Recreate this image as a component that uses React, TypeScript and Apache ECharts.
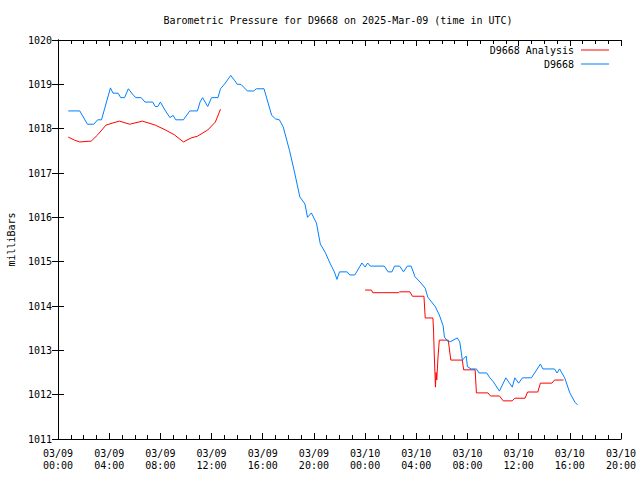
import React, { useEffect, useRef } from "react";
import * as echarts from "echarts";

const titleText = "Barometric Pressure for D9668 on 2025-Mar-09 (time in UTC)";
const yAxisName = "milliBars";
const xTickLabels = [
  "03/09\n00:00", "03/09\n04:00", "03/09\n08:00", "03/09\n12:00", "03/09\n16:00", "03/09\n20:00",
  "03/10\n00:00", "03/10\n04:00", "03/10\n08:00", "03/10\n12:00", "03/10\n16:00", "03/10\n20:00",
];
const seriesNames = ["D9668 Analysis", "D9668"];

// hours since 03/09 00:00 UTC
const obsHours = [
  0.8, 1.7, 2.3, 2.8, 3.1, 3.4, 4.1, 4.3, 4.7, 4.9, 5.2, 5.5, 5.9, 6.1, 6.5, 6.8, 7.4, 7.6, 7.8, 8.0,
  8.4, 8.75, 9.0, 9.2, 9.8, 10.3, 10.9, 11.1, 11.3, 11.7, 12.0, 12.5, 12.7, 13.0, 13.5, 13.9, 14.0, 14.3,
  14.8, 15.3, 15.5, 16.1, 16.4, 16.7, 17.0, 17.3, 17.6, 18.1, 18.5, 18.9, 19.3, 19.5, 19.8, 20.2, 20.5,
  20.9, 21.25, 21.6, 21.8, 22.0, 22.6, 22.8, 23.2, 23.75, 24.0, 24.2, 24.4, 25.5, 25.8, 26.1, 26.3, 26.7,
  27.0, 27.3, 27.6, 27.9, 28.3, 28.7, 28.9, 29.2, 29.5, 29.8, 30.1, 30.2, 30.5, 30.7, 31.2, 31.4, 31.6,
  31.9, 32.0, 32.3, 32.7, 32.9, 33.5, 33.75, 34.0, 34.5, 35.0, 35.5, 35.7, 36.0, 36.3, 37.0, 37.3, 37.7,
  37.9, 38.8, 39.0, 39.2, 39.6, 40.0, 40.4, 40.6,
];
const obsValues = [
  1018.4, 1018.4, 1018.1, 1018.1, 1018.2, 1018.2, 1018.92, 1018.8, 1018.8, 1018.7, 1018.7, 1018.9, 1018.75,
  1018.7, 1018.7, 1018.6, 1018.6, 1018.5, 1018.5, 1018.6, 1018.4, 1018.25, 1018.3, 1018.2, 1018.2, 1018.4,
  1018.4, 1018.6, 1018.7, 1018.5, 1018.7, 1018.7, 1018.9, 1019.0, 1019.2, 1019.05, 1019.0, 1019.0, 1018.85,
  1018.85, 1018.9, 1018.9, 1018.6, 1018.3, 1018.22, 1018.2, 1018.04, 1017.5, 1017.0, 1016.46, 1016.3, 1016.0,
  1016.1, 1015.87, 1015.4, 1015.2, 1014.97, 1014.77, 1014.6, 1014.77, 1014.77, 1014.7, 1014.7, 1014.97,
  1014.88, 1014.97, 1014.9, 1014.9, 1014.77, 1014.77, 1014.9, 1014.9, 1014.77, 1014.9, 1014.9, 1014.66,
  1014.54, 1014.4, 1014.2, 1014.09, 1013.98, 1013.8, 1013.55, 1013.3, 1013.19, 1013.2, 1013.28, 1013.19,
  1012.78, 1012.87, 1012.63, 1012.58, 1012.58, 1012.49, 1012.49, 1012.38, 1012.3, 1012.08, 1012.38, 1012.17,
  1012.38, 1012.26, 1012.38, 1012.38, 1012.51, 1012.69, 1012.58, 1012.58, 1012.49, 1012.58, 1012.38,
  1012.04, 1011.83, 1011.77,
];

const anaHours1 = [0.8, 1.3, 1.7, 2.6, 3.1, 3.75, 4.3, 4.8, 5.6, 6.6, 7.6, 8.4, 9.1, 9.8, 10.4, 10.9, 11.7, 12.3, 12.7];
const anaValues1 = [
  1017.81, 1017.74, 1017.7, 1017.72, 1017.86, 1018.08, 1018.13, 1018.17, 1018.1, 1018.17, 1018.08, 1017.97,
  1017.86, 1017.7, 1017.79, 1017.83, 1017.97, 1018.15, 1018.44,
];
const anaHours2 = [
  24.0, 24.5, 24.6, 26.6, 26.7, 27.5, 27.7, 28.6, 28.7, 29.3, 29.35, 29.4, 29.5, 29.55, 29.6, 29.7, 29.8,
  30.5, 30.7, 31.6, 31.7, 32.6, 32.7, 33.6, 33.8, 34.5, 34.8, 35.5, 35.7, 36.5, 36.7, 37.5, 37.7, 38.6, 38.8, 39.5,
];
const anaValues2 = [
  1014.36, 1014.36, 1014.3, 1014.3, 1014.32, 1014.32, 1014.22, 1014.22, 1013.73, 1013.73, 1013.46, 1012.96,
  1012.17, 1012.5, 1012.33, 1012.85, 1013.23, 1013.23, 1012.78, 1012.78, 1012.56, 1012.56, 1012.04, 1012.04,
  1011.97, 1011.97, 1011.86, 1011.86, 1011.92, 1011.92, 1012.06, 1012.06, 1012.26, 1012.26, 1012.33, 1012.33,
];

const colors = ["#ff0000", "#0080ff"];
const FONT = "DejaVu Sans Mono";

export default function App() {
  const ref = useRef<HTMLDivElement>(null);
  useEffect(() => {
    if (!ref.current) return;
    const chart = echarts.init(ref.current, null, { renderer: "svg" });
    const obsData = obsHours.map((h, i) => [h, obsValues[i]]);
    const anaData: any[] = [
      ...anaHours1.map((h, i) => [h, anaValues1[i]]),
      [18, "-"],
      ...anaHours2.map((h, i) => [h, anaValues2[i]]),
    ];
    const axisLine = { show: true, lineStyle: { color: "#000", width: 1 } };
    const label = { color: "#000", fontFamily: FONT, fontSize: 10 };
    const xCommon = {
      type: "value" as const,
      min: 0,
      max: 44,
      interval: 4,
      axisLine,
      axisTick: { show: true, inside: true, length: 6, lineStyle: { color: "#000" } },
      minorTick: { show: true, splitNumber: 4, length: 4, lineStyle: { color: "#000" } },
      splitLine: { show: false },
      minorSplitLine: { show: false },
    };
    const yCommon = {
      type: "value" as const,
      min: 1011,
      max: 1020,
      interval: 1,
      axisLine,
      axisTick: { show: true, inside: true, length: 6, lineStyle: { color: "#000" } },
      splitLine: { show: false },
    };
    const legendCommon = {
      show: true,
      orient: "horizontal" as const,
      right: 31,
      align: "right" as const,
      padding: 0,
      itemWidth: 28,
      itemHeight: 1,
      icon: "rect",
      selectedMode: false,
      textStyle: { color: "#000", fontFamily: FONT, fontSize: 10, padding: [0, 2, 0, 0] },
    };
    chart.setOption({
      animation: false,
      backgroundColor: "#fff",
      color: colors,
      grid: { left: 58, top: 40, right: 19, bottom: 41, containLabel: false, outerBoundsMode: "none" },
      legend: [
        { ...legendCommon, top: 45, data: [seriesNames[0]] },
        { ...legendCommon, top: 59, data: [seriesNames[1]] },
      ],
      xAxis: [
        {
          ...xCommon,
          position: "bottom",
          axisLabel: {
            ...label,
            margin: 8,
            lineHeight: 12,
            formatter: (v: number) => xTickLabels[Math.round(v / 4)] ?? "",
          },
        },
        { ...xCommon, position: "top", axisLabel: { show: false } },
      ],
      yAxis: [
        {
          ...yCommon,
          position: "left",
          name: yAxisName,
          nameLocation: "middle",
          nameRotate: 90,
          nameGap: 42,
          nameTextStyle: { color: "#000", fontFamily: FONT, fontSize: 10 },
          axisLabel: { ...label, margin: 6, formatter: (v: number) => String(v) },
        },
        { ...yCommon, position: "right", axisLabel: { show: false } },
      ],
      graphic: [
        {
          type: "text",
          x: 338,
          y: 20,
          style: { text: titleText, fill: "#000", font: `10px '${FONT}'`, textAlign: "center", textVerticalAlign: "middle" },
        },
      ],
      series: [
        {
          name: seriesNames[0],
          type: "line",
          data: anaData,
          showSymbol: false,
          symbol: "none",
          connectNulls: false,
          itemStyle: { color: colors[0] },
          lineStyle: { color: colors[0], width: 1 },
          xAxisIndex: 0,
          yAxisIndex: 0,
        },
        {
          name: seriesNames[1],
          type: "line",
          data: obsData,
          showSymbol: false,
          symbol: "none",
          itemStyle: { color: colors[1] },
          lineStyle: { color: colors[1], width: 1 },
          xAxisIndex: 0,
          yAxisIndex: 0,
        },
      ],
    });
    return () => chart.dispose();
  }, []);
  return (
    <div
      ref={ref}
      style={{ position: "fixed", left: 0, top: 0, width: 640, height: 480, background: "#fff" }}
    />
  );
}
